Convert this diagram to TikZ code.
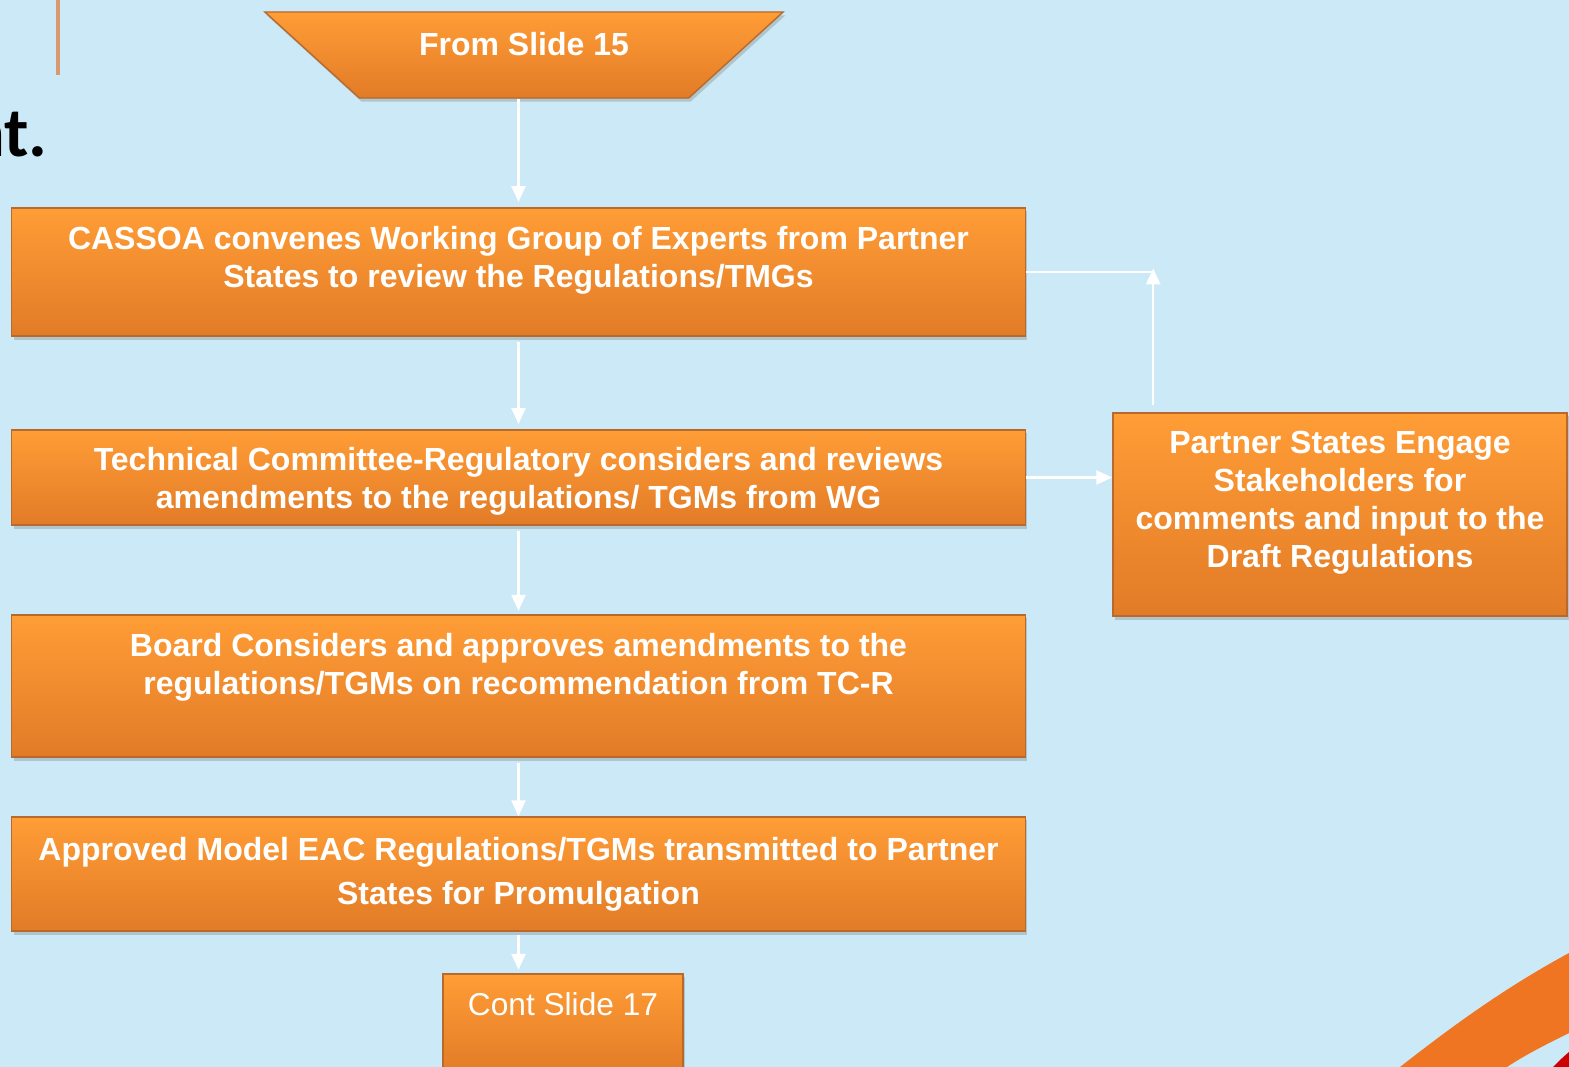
\documentclass[tikz,border=0pt]{standalone}
\usepackage{fontspec}
\setmainfont{Liberation Sans}
\newfontfamily\titlefont{Carlito}
\usetikzlibrary{arrows.meta,shapes.geometric,shadows}
\definecolor{slideblue}{HTML}{CBE9F6}
\definecolor{boxtop}{HTML}{FF9D36}
\definecolor{boxbottom}{HTML}{E27B27}
\definecolor{boxedge}{HTML}{B86A2C}
\definecolor{swoosh}{HTML}{F07522}
\definecolor{ruleorange}{HTML}{D99A70}
\tikzset{
  flowbox/.style={rectangle, draw=boxedge, line width=0.4pt, top color=boxtop, bottom color=boxbottom,
    text=white, font=\bfseries\fontsize{9.1}{10.8}\selectfont, align=center,
    drop shadow={shadow xshift=0.6pt, shadow yshift=-1pt, opacity=0.35}},
  flowline/.style={draw=white, line width=0.6pt},
  flowarrow/.style={flowline, -{Triangle[width=4pt,length=4.5pt]}}
}
\begin{document}
\begin{tikzpicture}[x=0.01cm, y=-0.01cm]
    \fill[slideblue] (0,0) rectangle (1569,1067);
    \useasboundingbox (0,0) rectangle (1569,1067);
    \draw[ruleorange, line width=1pt] (58,0) to (58,75);
    \node[anchor=base east, inner sep=0pt, font=\titlefont\bfseries\fontsize{20}{22}\selectfont] (heading) at (48,157) {nt.};
    \fill[swoosh] (1400,1067) .. controls (1460,1020) and (1510,985) .. (1569,953) -- (1569,1033) .. controls (1545,1045) and (1525,1055) .. (1507,1067) -- cycle;
    \fill[red!80!black] (1553,1067) .. controls (1558,1062) and (1563,1057) .. (1569,1052) -- (1569,1067) -- cycle;

    \node[flowbox, trapezium, shape border rotate=180, trapezium left angle=36, trapezium right angle=36,
      trapezium stretches body, minimum width=5.18cm, minimum height=0.86cm, text depth=0.22cm] (fromslide) at (524,55) {From Slide 15};
    \node[flowbox, minimum width=10.13cm, minimum height=1.28cm, text depth=0.30cm] (review) at (518.5,272)
      {CASSOA convenes Working Group of Experts from Partner\\States to review the Regulations/TMGs};
    \node[flowbox, minimum width=10.13cm, minimum height=0.95cm, text depth=0cm] (tcr) at (518.5,477.5)
      {Technical Committee-Regulatory considers and reviews\\amendments to the regulations/ TGMs from WG};
    \node[flowbox, minimum width=10.13cm, minimum height=1.42cm, text depth=0.44cm] (board) at (518.5,686)
      {Board Considers and approves amendments to the\\regulations/TGMs on recommendation from TC-R};
    \node[flowbox, minimum width=10.13cm, minimum height=1.14cm, font=\bfseries\fontsize{9.1}{12.5}\selectfont] (approved) at (518.5,874)
      {Approved Model EAC Regulations/TGMs transmitted to Partner\\States for Promulgation};
    \node[flowbox, minimum width=2.4cm, minimum height=1.0cm, text depth=0.4cm, font=\fontsize{9}{11}\selectfont] (contslide) at (563,1024) {Cont Slide 17};
    \node[flowbox, minimum width=4.54cm, minimum height=2.03cm, text depth=0.30cm] (engage) at (1340,514.5)
      {Partner States Engage\\Stakeholders for\\comments and input to the\\Draft Regulations};

    \draw[flowarrow, shorten >=1.5pt] (fromslide.south -| review.north) to (review.north);
    \draw[flowarrow, shorten <=1.5pt, shorten >=1.5pt] (review.south) to (tcr.north);
    \draw[flowarrow, shorten <=1.5pt, shorten >=1pt] (tcr.south) to (board.north);
    \draw[flowarrow, shorten <=1.5pt] (board.south) to (approved.north);
    \draw[flowarrow, shorten <=1pt, shorten >=1pt] (approved.south) to (approved.south |- contslide.north);
    \draw[flowarrow] (tcr.east) to (tcr.east -| engage.west);
    \coordinate (feedback) at ([xshift=0.41cm]engage.north west |- review.east);
    \draw[flowline] (review.east) to (feedback);
    \draw[flowarrow, shorten <=2pt, shorten >=-1pt] ([xshift=0.41cm]engage.north west) to (feedback);
\end{tikzpicture}
\end{document}
